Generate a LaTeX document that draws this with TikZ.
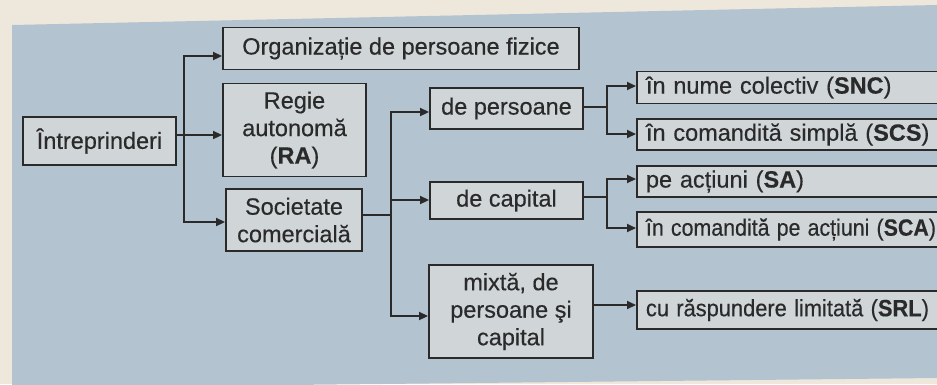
\documentclass[tikz,border=0pt]{standalone}
\usepackage{graphicx}
\usepackage{fontspec}
\setmainfont{Liberation Sans}[FakeBold=0.4]
\usetikzlibrary{arrows.meta}
\definecolor{paper}{HTML}{EEE8DC}
\definecolor{panel}{HTML}{B4C3D0}
\definecolor{boxfill}{HTML}{D0D5D8}
\definecolor{ink}{HTML}{2A2A2A}
\tikzset{
  box/.style={draw=ink, line width=1.9pt, fill=boxfill, inner sep=0pt, text=ink,
    font=\fontsize{23.5}{27.5}\selectfont, align=center},
  rbox/.style={draw=ink, line width=1.9pt, fill=boxfill, inner ysep=0pt, inner xsep=9pt, text=ink,
    font=\fontsize{23.5}{27}\selectfont, align=left, text width=300pt, anchor=west},
  conn/.style={draw=ink, line width=1.9pt},
  arr/.style={conn, -{Triangle[length=9pt,width=8pt]}},
  arrs/.style={conn, {Triangle[length=9pt,width=8pt]}-{Triangle[length=9pt,width=8pt]}},
}
\begin{document}
\begin{tikzpicture}[x=1pt,y=-1pt]
\useasboundingbox (0,0) rectangle (937,384);
\clip (0,0) rectangle (937,384);
\fill[paper] (0,0) rectangle (937,384);
\fill[panel] (12,25) -- (937,5) -- (937,378) -- (12,388) -- cycle;

% level 1
\node[box, minimum width=153pt, minimum height=48pt] (I) at (99.5,141) {Întreprinderi};
% level 2
\node[box, minimum width=356pt, minimum height=42pt] (O) at (401,48.5) {Organizație de persoane fizice};
\node[box, minimum width=143pt, minimum height=93pt] (RA) at (294.5,130) {Regie\\autonomă\\(\textbf{RA})};
\node[box, minimum width=136pt, minimum height=62pt] (SC) at (294,220) {Societate\\comercială};
% level 3
\node[box, minimum width=153pt, minimum height=41pt] (DP) at (506.5,108.5) {de persoane};
\node[box, minimum width=153pt, minimum height=37pt] (DC) at (506.5,200.5) {de capital};
\node[box, minimum width=164pt, minimum height=93pt] (MX) at (511,311.5) {mixtă, de\\persoane şi\\capital};
% level 4
\node[rbox, minimum height=32pt] (SNC) at (636,87.5) {în nume colectiv (\textbf{SNC})};
\node[rbox, minimum height=31pt] (SCS) at (636,134.5) {în comandită simplă (\textbf{SCS})};
\node[rbox, minimum height=31pt] (SA) at (636,181.5) {pe acțiuni (\textbf{SA})};
\node[rbox, minimum height=35pt] (SCA) at (636,229.5) {\scalebox{0.91}[1]{în comandită pe acțiuni (\textbf{SCA})}};
\node[rbox, minimum height=38pt] (SRL) at (636,310) {\scalebox{0.93}[1]{cu răspundere limitată (\textbf{SRL})}};

% connectors from Intreprinderi
\coordinate (j1) at (184,135);
\coordinate (tTop) at (184,56);
\coordinate (tBot) at (184,222);
\draw[arr] (I.east |- j1) -- (RA.west |- j1);
\draw[arrs] (O.west |- tTop) -- (tTop) -- (tBot) -- (SC.west |- tBot);

% from Societate comerciala
\coordinate (s1) at (391,215);
\coordinate (s1t) at (391,112);
\coordinate (s1m) at (391,200);
\coordinate (s1b) at (391,316);
\draw[conn] (SC.east |- s1) -- (s1);
\draw[arrs] (DP.west |- s1t) -- (s1t) -- (s1b) -- (MX.west |- s1b);
\draw[arr] (s1m) -- (DC.west |- s1m);

% from de persoane
\coordinate (p1) at (607,107);
\coordinate (p1t) at (607,86);
\coordinate (p1b) at (607,134);
\draw[conn] (DP.east |- p1) -- (p1);
\draw[arrs] (SNC.west |- p1t) -- (p1t) -- (p1b) -- (SCS.west |- p1b);

% from de capital
\coordinate (c1) at (607,197);
\coordinate (c1t) at (607,179);
\coordinate (c1b) at (607,228);
\draw[conn] (DC.east |- c1) -- (c1);
\draw[arrs] (SA.west |- c1t) -- (c1t) -- (c1b) -- (SCA.west |- c1b);

% from mixta
\coordinate (m1) at (600,305);
\draw[arr] (MX.east |- m1) -- (SRL.west |- m1);
\end{tikzpicture}
\end{document}
